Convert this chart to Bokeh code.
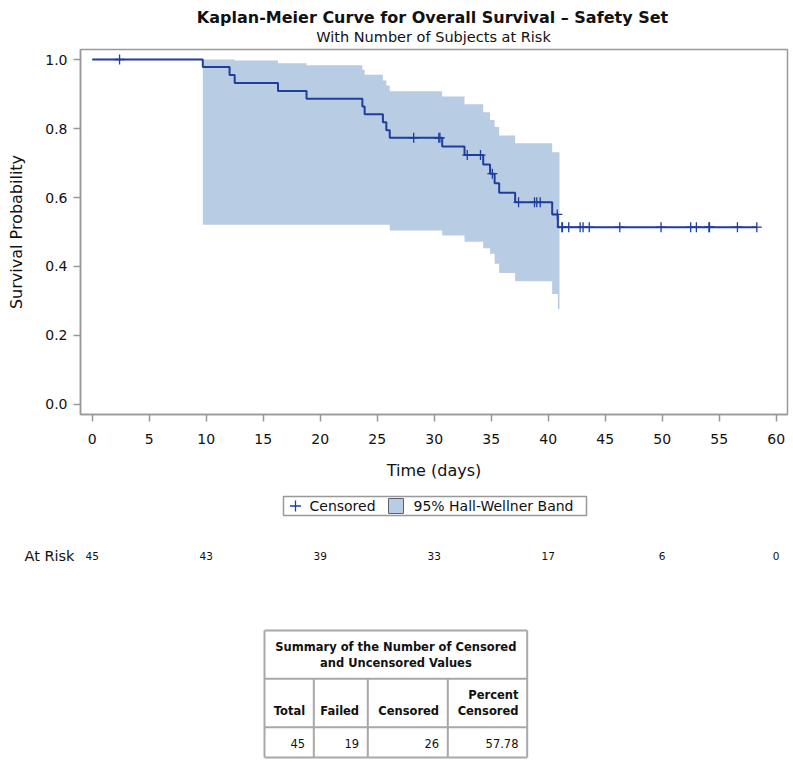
import numpy as np
from bokeh.plotting import figure
from bokeh.models import Range1d, FactorRange, FixedTicker, NumeralTickFormatter
from bokeh.layouts import column
from bokeh.embed import file_html
from bokeh.resources import INLINE
from bokeh.core.properties import value

# ---------------- data ----------------
event_times = [9.7, 12.05, 12.5, 16.3, 18.8, 23.7, 23.9, 25.5, 25.8, 26.1,
               30.7, 32.66, 34.3, 34.9, 35.3, 35.7, 37.1, 40.35, 40.85]
event_surv = [0.978, 0.955, 0.932, 0.909, 0.886, 0.864, 0.841, 0.818, 0.795, 0.773,
              0.748, 0.723, 0.696, 0.669, 0.641, 0.614, 0.586, 0.551, 0.514]
curve_end = 58.3

cens_times = [2.4, 28.2, 30.4, 30.5, 32.9, 34.06, 35.1, 37.4, 38.8, 39.0, 39.3, 40.8,
              41.2, 41.25, 41.8, 42.8, 43.06, 43.6, 46.28, 49.9, 52.5, 53.0, 54.1, 54.15,
              56.6, 58.3]
cens_surv = [1.0, 0.773, 0.773, 0.773, 0.723, 0.723, 0.669, 0.586, 0.586, 0.586, 0.586, 0.551,
             0.514, 0.514, 0.514, 0.514, 0.514, 0.514, 0.514, 0.514, 0.514, 0.514, 0.514, 0.514,
             0.514, 0.514]

band_times = [9.7, 12.05, 12.5, 16.3, 18.8, 23.7, 23.9, 25.5, 25.8, 26.1,
              30.7, 32.66, 34.3, 34.9, 35.3, 35.7, 37.1, 40.35, 40.85]
band_upper = [1.0, 1.0, 0.997, 0.989, 0.983, 0.970, 0.956, 0.939, 0.925, 0.908,
              0.893, 0.870, 0.847, 0.825, 0.804, 0.780, 0.757, 0.731, 0.731]
band_lower = [0.521, 0.521, 0.521, 0.521, 0.521, 0.521, 0.521, 0.521, 0.521, 0.504,
              0.490, 0.472, 0.453, 0.437, 0.408, 0.381, 0.357, 0.320, 0.277]
band_end = 40.99

risk_times = [0, 10, 20, 30, 40, 50, 60]
risk_counts = ["45", "43", "39", "33", "17", "6", "0"]

x_ticks = [0, 5, 10, 15, 20, 25, 30, 35, 40, 45, 50, 55, 60]
y_ticks = [0.0, 0.2, 0.4, 0.6, 0.8, 1.0]

title_text = "Kaplan-Meier Curve for Overall Survival \u2013 Safety Set"
subtitle_text = "With Number of Subjects at Risk"
x_label = "Time (days)"
y_label = "Survival Probability"
risk_label = "At Risk"
legend_labels = ["Censored", "95% Hall-Wellner Band"]

table_title = ["Summary of the Number of Censored", "and Uncensored Values"]
table_headers = [["Total"], ["Failed"], ["Censored"], ["Percent", "Censored"]]
table_values = ["45", "19", "26", "57.78"]

# ---------------- style ----------------
FONT_NAME = "DejaVu Sans"
FONT = value(FONT_NAME)
LINE = "#1F3D9B"
BAND = "#B8CCE4"
FRAME = "#999999"
TXT = "#111111"
W = 793

# layout (page pixels; all frames are aligned by the column)
FR_L, FR_R = 80, 787
PX_PER_DAY = 11.4
T0_PX = 91.7
x_start = (FR_L - T0_PX) / PX_PER_DAY
x_end = (FR_R - T0_PX) / PX_PER_DAY


def blank(h):
    f = figure(width=W, height=h, x_range=Range1d(FR_L, FR_R), y_range=Range1d(h, 0),
               output_backend="svg", toolbar_location=None,
               min_border_left=FR_L, min_border_right=W - FR_R, min_border_top=0, min_border_bottom=0,
               x_axis_location=None, y_axis_location=None, outline_line_color=None)
    f.grid.visible = False
    return f


# ---------------- title figure (page y 0..47) ----------------
pt = blank(47)
pt.text(x=[432], y=[17], text=[title_text], text_font=FONT, text_font_style="bold",
        text_font_size="16px", text_align="center", text_baseline="alphabetic", text_color=TXT)
pt.text(x=[433], y=[36], text=[subtitle_text], text_font=FONT,
        text_font_size="14.5px", text_align="center", text_baseline="alphabetic", text_color=TXT)

# ---------------- main KM figure (page y 47..486) ----------------
HA = 439
p = figure(width=W, height=HA, x_range=Range1d(x_start, x_end), y_range=Range1d(-0.029, 1.029),
           output_backend="svg", toolbar_location=None,
           min_border_top=2, min_border_left=FR_L, min_border_right=W - FR_R,
           min_border_bottom=HA - 2 - 365)
p.grid.visible = False
p.outline_line_color = FRAME
p.outline_line_width = 1.5

bx, bu, bl = [], [], []
edges = band_times + [band_end]
for i in range(len(band_times)):
    bx += [edges[i], edges[i + 1]]
    bu += [band_upper[i], band_upper[i]]
    bl += [band_lower[i], band_lower[i]]
p.varea(x=bx, y1=bl, y2=bu, fill_color=BAND, fill_alpha=1.0)

sx = [0.0] + event_times + [curve_end]
sy = [1.0] + event_surv + [event_surv[-1]]
p.step(x=sx, y=sy, mode="after", line_color=LINE, line_width=2)
p.scatter(x=cens_times, y=cens_surv, marker="cross", size=10, line_color=LINE, line_width=1.3)

for ax in (p.xaxis[0], p.yaxis[0]):
    ax.axis_line_color = FRAME
    ax.axis_line_width = 1.5
    ax.major_tick_line_color = FRAME
    ax.major_tick_line_width = 1.5
    ax.major_tick_out = 7
    ax.major_tick_in = 0
    ax.minor_tick_line_color = None
    ax.major_label_text_font = FONT_NAME
    ax.major_label_text_font_size = "14px"
    ax.major_label_text_color = TXT
    ax.axis_label_text_font = FONT_NAME
    ax.axis_label_text_font_size = "16px"
    ax.axis_label_text_font_style = "normal"
    ax.axis_label_text_color = TXT

p.xaxis.ticker = FixedTicker(ticks=x_ticks)
p.yaxis.ticker = FixedTicker(ticks=y_ticks)
p.yaxis.formatter = NumeralTickFormatter(format="0.0")
p.xaxis.axis_label = x_label
p.yaxis.axis_label = y_label
p.xaxis.major_label_standoff = 12
p.xaxis.axis_label_standoff = 14
p.yaxis.major_label_standoff = 6
p.yaxis.axis_label_standoff = 16

# ---------------- legend figure (page y 486..533) ----------------
pl = blank(47)
box_l, box_r, box_t, box_b = 283, 586, 10, 29
pl.quad(left=[box_l], right=[box_r], top=[box_t], bottom=[box_b], fill_color="white",
        line_color=FRAME, line_width=1.5)
ymid = (box_t + box_b) / 2
pl.scatter(x=[box_l + 12], y=[ymid], marker="cross", size=11, line_color=LINE, line_width=1.3)
pl.text(x=[box_l + 26], y=[ymid], text=[legend_labels[0]], text_font=FONT, text_font_size="14px",
        text_align="left", text_baseline="middle", text_color=TXT)
pl.quad(left=[box_l + 105], right=[box_l + 120], top=[ymid - 7.5], bottom=[ymid + 7.5],
        fill_color=BAND, line_color="#5A6170", line_width=1)
pl.text(x=[box_l + 130], y=[ymid], text=[legend_labels[1]], text_font=FONT, text_font_size="14px",
        text_align="left", text_baseline="middle", text_color=TXT)

# ---------------- at-risk figure (page y 533..597) ----------------
pr = figure(width=W, height=64, x_range=p.x_range, y_range=FactorRange(factors=[risk_label]),
            output_backend="svg", toolbar_location=None, x_axis_location=None,
            min_border_top=12, min_border_bottom=32, min_border_left=FR_L, min_border_right=W - FR_R,
            outline_line_color=None)
pr.grid.visible = False
ya = pr.yaxis[0]
ya.axis_line_color = None
ya.major_tick_line_color = None
ya.minor_tick_line_color = None
ya.major_tick_out = 0
ya.major_tick_in = 0
ya.major_label_standoff = 6
ya.major_label_text_font = FONT_NAME
ya.major_label_text_font_size = "14.5px"
ya.major_label_text_color = TXT
pr.text(x=risk_times, y=[risk_label] * len(risk_times), text=risk_counts, text_font=FONT,
        text_font_size="10.5px", text_align="center", text_baseline="middle", text_color=TXT)

# ---------------- summary table figure (page y 597..763) ----------------
HC = 166
pc = blank(HC)
col_edges = [264, 313.3, 367.3, 447.3, 526.7]
row_edges = [33, 81.3, 129.7, 160]
GRID = "#A8A8A8"
pc.segment(x0=[col_edges[0]] * 4, x1=[col_edges[-1]] * 4, y0=row_edges, y1=row_edges,
           line_color=GRID, line_width=2)
pc.segment(x0=[col_edges[0], col_edges[-1]], x1=[col_edges[0], col_edges[-1]],
           y0=[row_edges[0]] * 2, y1=[row_edges[-1]] * 2, line_color=GRID, line_width=2)
pc.segment(x0=col_edges[1:-1], x1=col_edges[1:-1], y0=[row_edges[1]] * 3, y1=[row_edges[-1]] * 3,
           line_color=GRID, line_width=2)
tc = (col_edges[0] + col_edges[-1]) / 2
pc.text(x=[tc, tc], y=[49, 65.7], text=table_title, text_font=FONT, text_font_style="bold",
        text_font_size="11.5px", text_align="center", text_baseline="middle", text_color=TXT)
hx, hy, ht = [], [], []
for j, lines in enumerate(table_headers):
    n = len(lines)
    for k, s in enumerate(lines):
        hx.append(col_edges[j + 1] - 8.7)
        hy.append(113.7 - (n - 1 - k) * 16.7)
        ht.append(s)
pc.text(x=hx, y=hy, text=ht, text_font=FONT, text_font_style="bold", text_font_size="11.5px",
        text_align="right", text_baseline="middle", text_color=TXT)
pc.text(x=[c - 8.7 for c in col_edges[1:]], y=[146.3] * 4, text=table_values, text_font=FONT,
        text_font_size="11.5px", text_align="right", text_baseline="middle", text_color=TXT)

layout = column(pt, p, pl, pr, pc, spacing=0)
open("out.html", "w").write(file_html(layout, INLINE))
